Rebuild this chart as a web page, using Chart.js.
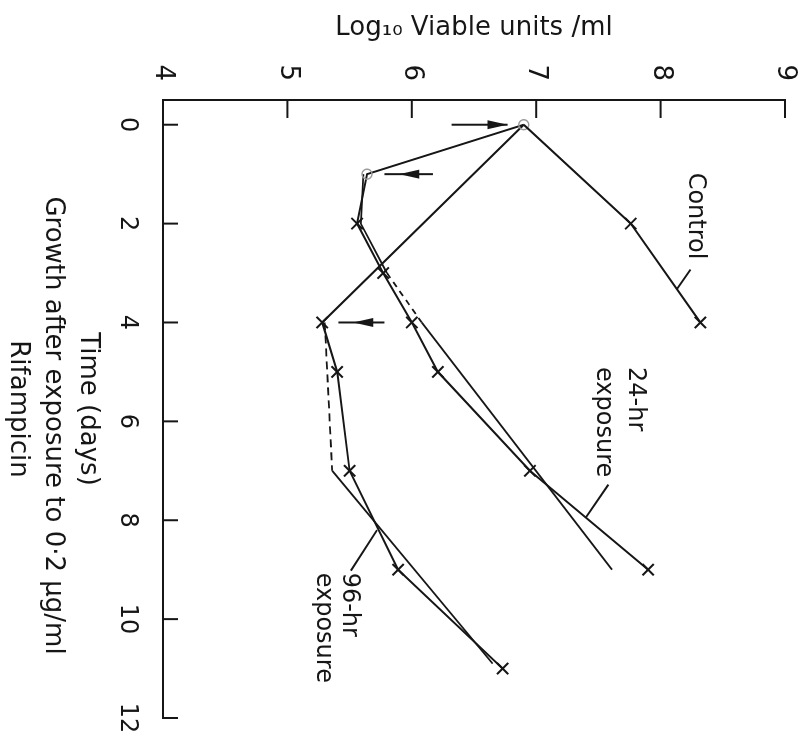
<!DOCTYPE html>
<html>
<head>
<meta charset="utf-8">
<title>Growth after exposure to rifampicin</title>
<script src="https://cdn.jsdelivr.net/npm/chart.js@4.4.1/dist/chart.umd.min.js"></script>
<style>
  html, body { margin: 0; padding: 0; background: #fff; overflow: hidden; }
  /* the figure is laid out upright and then turned a quarter turn clockwise */
  #wrap {
    position: absolute; left: 0; top: 0;
    width: 742px; height: 801px;
    transform-origin: 0 0;
    transform: translate(801px, 0) rotate(90deg);
  }
</style>
</head>
<body>
<div id="wrap"><canvas id="growthChart" width="742" height="801"></canvas></div>
<script>
// days after exposure / log10 viable units per ml
const timeTicks = [0, 2, 4, 6, 8, 10, 12];

const controlDays = [0, 2, 4];
const controlLog = [6.9, 7.76, 8.32];

const exp24Days = [0, 1, 2, 3, 4, 5, 7, 9];
const exp24Log = [6.9, 5.64, 5.56, 5.77, 6.0, 6.21, 6.95, 7.9];

const exp96Days = [0, 4, 5, 7, 9, 11];
const exp96Log = [6.9, 5.28, 5.4, 5.5, 5.89, 6.73];

// growth lines drawn through the recovery curves
const fit24Days = [1, 2, 3, 4, 9];
const fit24Log = [5.61, 5.59, 5.8, 6.08, 7.61];
const fit96Days = [4, 7, 10.9];
const fit96Log = [5.3, 5.36, 6.65];

// arrows (drug added / removed): day, shaft start, shaft end, tip
const arrowDays = [0, 1, 4];
const arrowFrom = [6.32, 6.17, 5.78];
const arrowTo = [6.77, 5.78, 5.41];
const arrowTip = [6.77, 5.9, 5.53];

// curve names with their leader lines
const curveNames = [['Control'], ['24-hr', 'exposure'], ['96-hr', 'exposure']];
const nameDay = [0.97, 4.9, 9.06];
const nameLog = [[8.28], [7.795, 7.54], [5.5, 5.29]];
const leaderFrom = [[3.33, 8.13], [7.94, 7.4], [8.2, 5.72]];
const leaderTo = [[2.93, 8.24], [7.28, 7.58], [9.02, 5.51]];

const ink = '#161616';
const FONT = "'DejaVu Sans', sans-serif";

const pts = (xs, ys) => xs.map((x, i) => ({ x: x, y: ys[i] }));

const arrowsPlugin = {
    id: 'arrows',
    afterDatasetsDraw(chart) {
        const { ctx, scales: { x, y } } = chart;
        ctx.save();
        ctx.strokeStyle = ink;
        ctx.fillStyle = ink;
        ctx.lineWidth = 2;
        arrowDays.forEach((d, i) => {
            const px = x.getPixelForValue(d);
            const y0 = y.getPixelForValue(arrowFrom[i]);
            const y1 = y.getPixelForValue(arrowTo[i]);
            const tip = y.getPixelForValue(arrowTip[i]);
            const dir = Math.sign(y1 - y0);
            ctx.beginPath();
            ctx.moveTo(px, y0);
            ctx.lineTo(px, y1);
            ctx.stroke();
            ctx.beginPath();
            ctx.moveTo(px, tip);
            ctx.lineTo(px - 4.5, tip - dir * 20);
            ctx.lineTo(px + 4.5, tip - dir * 20);
            ctx.closePath();
            ctx.fill();
        });
        ctx.restore();
    }
};

const namesPlugin = {
    id: 'curveNames',
    afterDatasetsDraw(chart) {
        const { ctx, scales: { x, y } } = chart;
        ctx.save();
        ctx.strokeStyle = ink;
        ctx.fillStyle = ink;
        ctx.lineWidth = 2;
        ctx.font = '24px ' + FONT;
        ctx.textAlign = 'left';
        ctx.textBaseline = 'middle';
        curveNames.forEach((lines, i) => {
            lines.forEach((txt, j) => {
                ctx.fillText(txt, x.getPixelForValue(nameDay[i]), y.getPixelForValue(nameLog[i][j]));
            });
            ctx.beginPath();
            ctx.moveTo(x.getPixelForValue(leaderFrom[i][0]), y.getPixelForValue(leaderFrom[i][1]));
            ctx.lineTo(x.getPixelForValue(leaderTo[i][0]), y.getPixelForValue(leaderTo[i][1]));
            ctx.stroke();
        });
        ctx.restore();
    }
};

// short tick marks pointing into the plot from both axes
const innerTicksPlugin = {
    id: 'innerTicks',
    afterDraw(chart) {
        const { ctx, chartArea: area, scales: { x, y } } = chart;
        ctx.save();
        ctx.strokeStyle = ink;
        ctx.lineWidth = 2;
        x.ticks.forEach(t => {
            const px = x.getPixelForValue(t.value);
            ctx.beginPath();
            ctx.moveTo(px, area.bottom);
            ctx.lineTo(px, area.bottom - 15);
            ctx.stroke();
        });
        y.ticks.forEach(t => {
            if (t.value === y.min) return;
            const py = y.getPixelForValue(t.value);
            ctx.beginPath();
            ctx.moveTo(area.left, py);
            ctx.lineTo(area.left + 18, py);
            ctx.stroke();
        });
        ctx.restore();
    }
};

const crossMarks = {
    borderColor: ink,
    pointStyle: 'crossRot',
    pointRadius: ctx => ctx.dataIndex === 0 ? 0 : 8,
    pointBorderWidth: 2,
    pointBorderColor: ink
};

new Chart(document.getElementById('growthChart'), {
    type: 'line',
    data: {
        datasets: [
            Object.assign({ label: 'Control', data: pts(controlDays, controlLog) }, crossMarks),
            {
                label: '24-hr exposure',
                data: pts(exp24Days, exp24Log),
                borderColor: ink,
                pointStyle: ctx => ctx.dataIndex < 2 ? 'circle' : 'crossRot',
                pointRadius: ctx => ctx.dataIndex < 2 ? 5 : 8,
                pointBorderWidth: ctx => ctx.dataIndex < 2 ? 1.5 : 2,
                pointBorderColor: ctx => ctx.dataIndex < 2 ? '#9a9a9a' : ink,
                pointBackgroundColor: 'rgba(0,0,0,0)'
            },
            Object.assign({ label: '96-hr exposure', data: pts(exp96Days, exp96Log) }, crossMarks),
            {
                label: '24-hr growth line',
                data: pts(fit24Days, fit24Log),
                borderColor: ink,
                pointRadius: 0,
                borderWidth: 1.8,
                segment: { borderDash: ctx => ctx.p0.parsed.x >= 3 && ctx.p1.parsed.x <= 4 ? [6, 5] : undefined }
            },
            {
                label: '96-hr growth line',
                data: pts(fit96Days, fit96Log),
                borderColor: ink,
                pointRadius: 0,
                borderWidth: 1.8,
                segment: { borderDash: ctx => ctx.p1.parsed.x <= 7 ? [8, 5] : undefined }
            }
        ]
    },
    options: {
        responsive: false,
        animation: false,
        devicePixelRatio: 1,
        layout: { autoPadding: false, padding: { left: 0, right: 24, top: 16, bottom: 0 } },
        datasets: {
            line: { borderWidth: 2, tension: 0, fill: false }
        },
        plugins: {
            colors: { enabled: false },
            legend: { display: false },
            tooltip: { enabled: false }
        },
        scales: {
            x: {
                type: 'linear',
                position: 'bottom',
                min: -0.5,
                max: 12,
                afterBuildTicks: axis => { axis.ticks = timeTicks.map(v => ({ value: v })); },
                afterFit: axis => {
                    axis.height = 163;
                    axis.paddingLeft = 0;
                    axis.paddingRight = 0;
                },
                grid: { display: false, drawTicks: false },
                border: { display: true, color: ink, width: 2 },
                ticks: { color: ink, padding: 21, font: { family: FONT, size: 24 } },
                title: {
                    display: true,
                    text: ['Time (days)', '    Growth after exposure to 0·2 µg/ml', 'Rifampicin'],
                    color: ink,
                    font: { family: FONT, size: 26, lineHeight: 35 / 26 },
                    padding: { top: 0, bottom: 0 }
                }
            },
            y: {
                type: 'linear',
                position: 'left',
                min: 4,
                max: 9,
                afterFit: axis => {
                    axis.width = 100;
                    axis.paddingTop = 0;
                    axis.paddingBottom = 0;
                },
                grid: { display: false, drawTicks: false },
                border: { display: true, color: ink, width: 2 },
                ticks: { stepSize: 1, color: ink, padding: 19, font: { family: FONT, size: 26 } },
                title: {
                    display: true,
                    text: 'Log₁₀ Viable units /ml',
                    color: ink,
                    font: { family: FONT, size: 26 },
                    padding: { top: 13, bottom: 0 }
                }
            }
        }
    },
    plugins: [arrowsPlugin, namesPlugin, innerTicksPlugin]
});
</script>
</body>
</html>
